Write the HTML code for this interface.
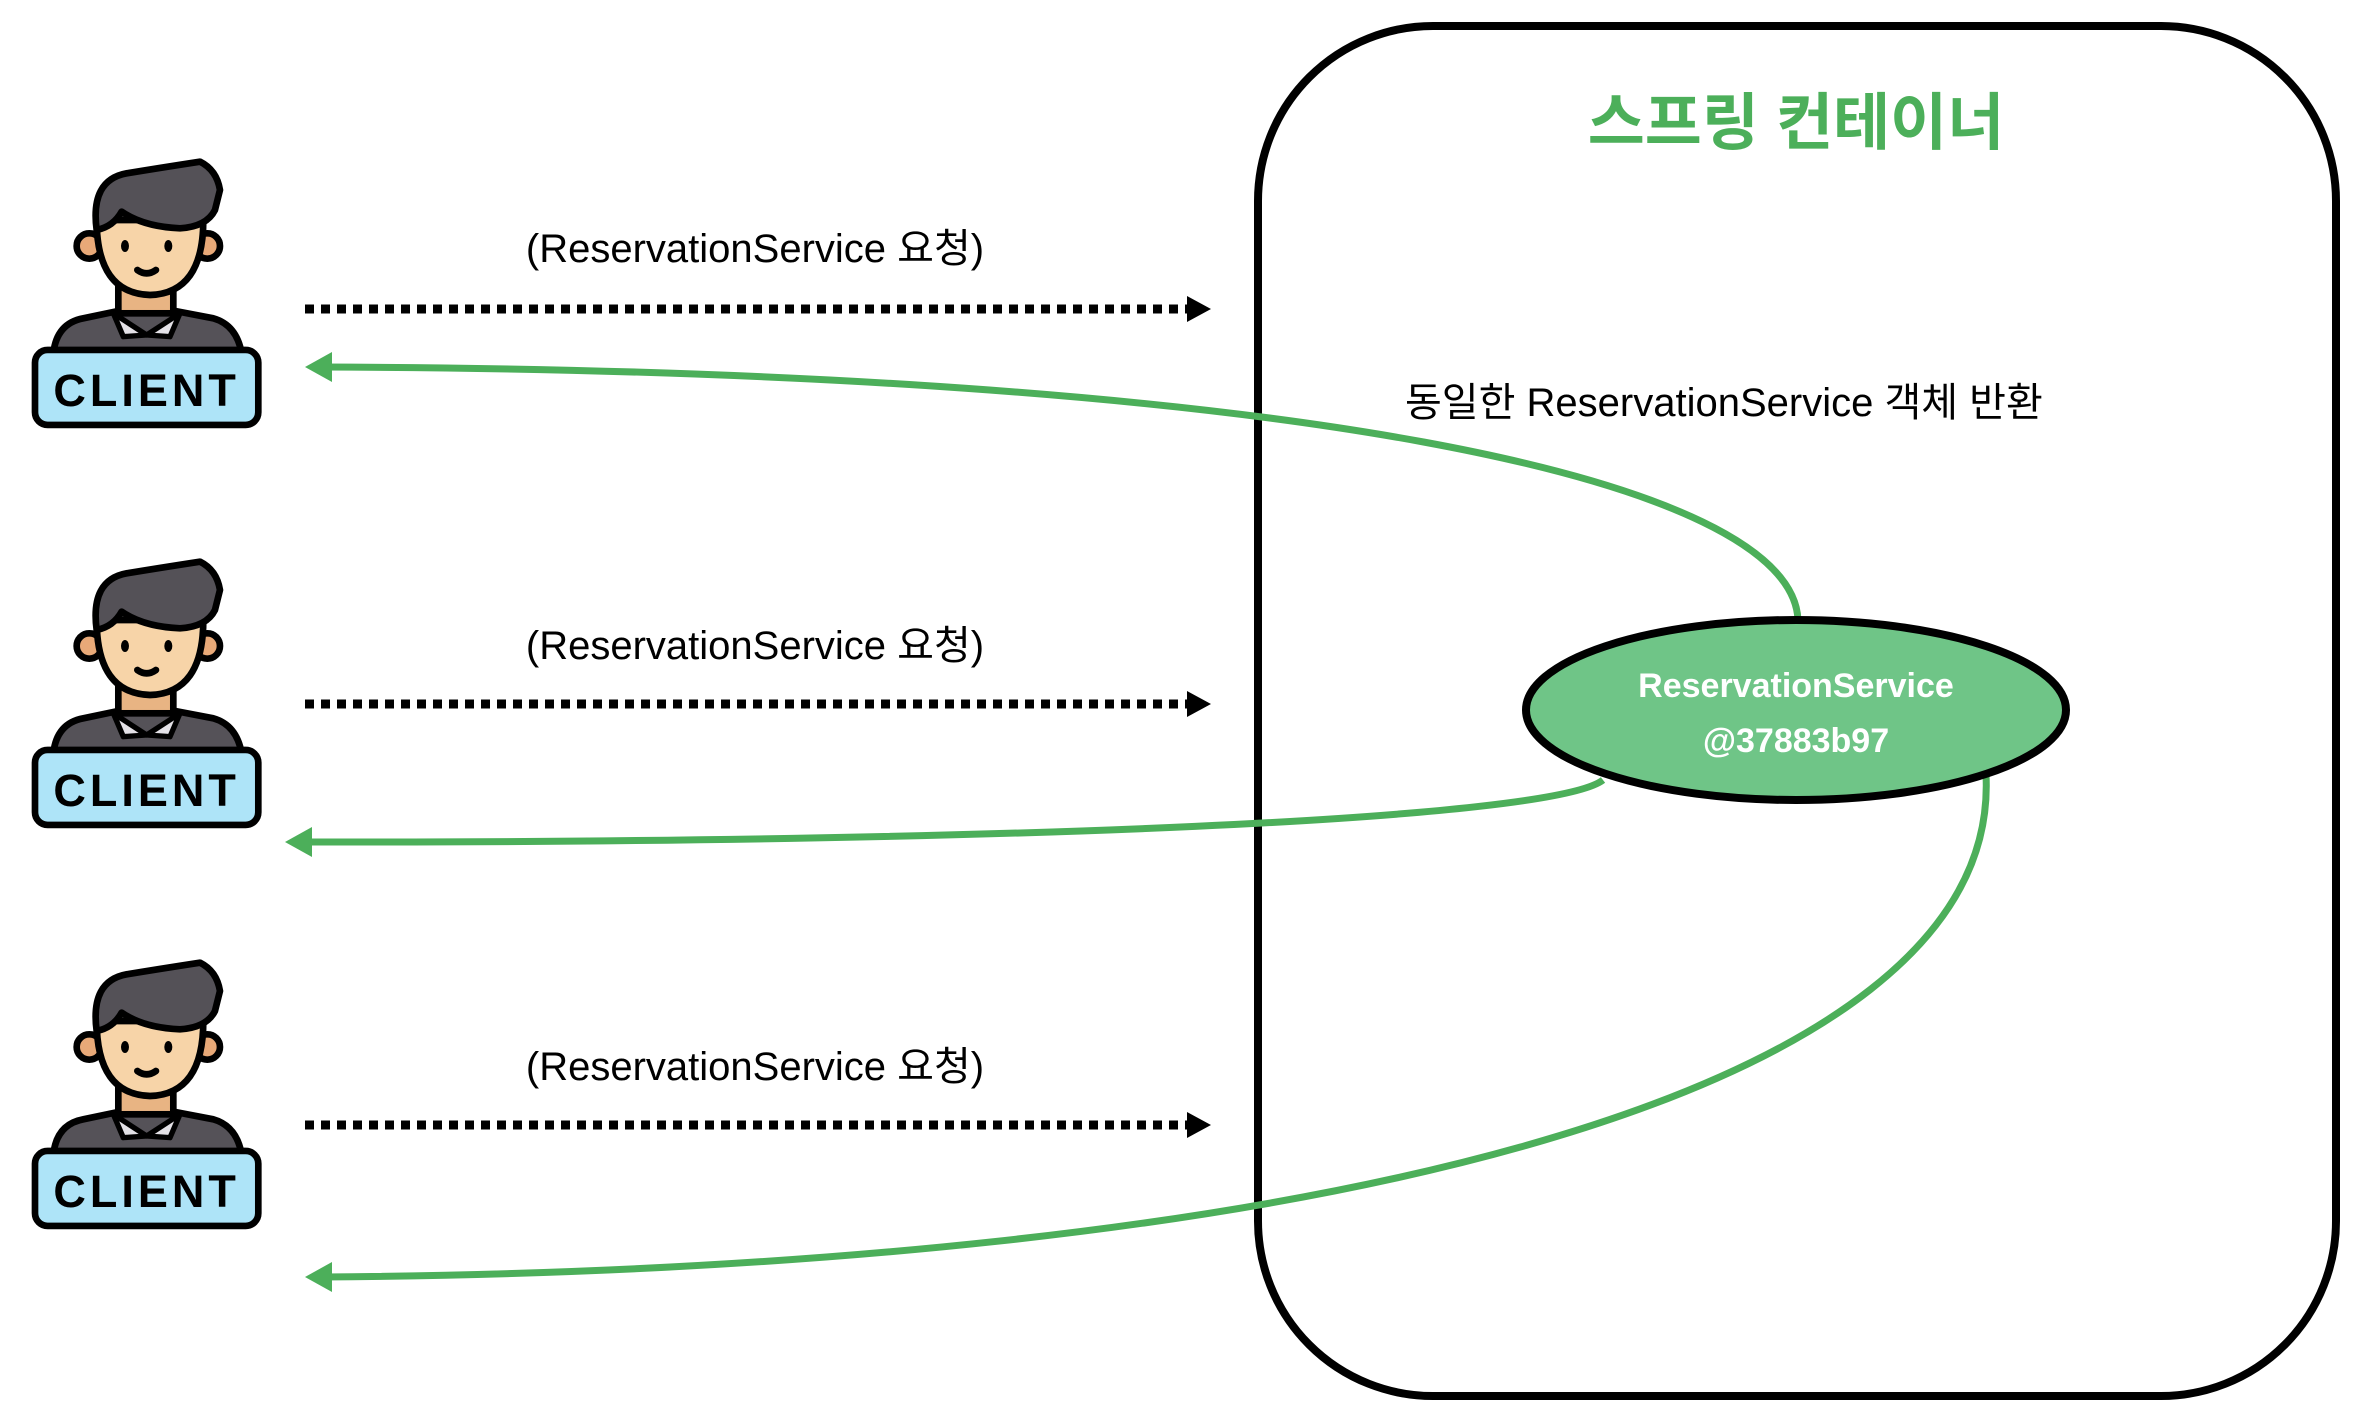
<!DOCTYPE html>
<html><head><meta charset="utf-8"><style>
html,body{margin:0;padding:0;background:#fff;}
svg{display:block;}
text{font-family:"Liberation Sans","Noto Sans CJK KR",sans-serif;}
</style></head><body>
<svg width="2372" height="1422" viewBox="0 0 2372 1422" xmlns="http://www.w3.org/2000/svg">
<defs>
<g id="client">
 <g transform="scale(0.3333)">
  <path d="M160,700 Q170,610 250,595 L360,572 L520,572 L640,595 Q710,615 725,700 z" fill="#555258" stroke="#000" stroke-width="20" stroke-linejoin="round"/>
  <rect x="355" y="490" width="165" height="90" fill="#e8b483" stroke="#000" stroke-width="20"/>
  <path d="M340,580 L440,645 L370,650 z" fill="#e3e1e6" stroke="#000" stroke-width="16" stroke-linejoin="round"/>
  <path d="M540,580 L440,645 L510,650 z" fill="#e3e1e6" stroke="#000" stroke-width="16" stroke-linejoin="round"/>
  <circle cx="268" cy="378" r="38" fill="#e8a978" stroke="#000" stroke-width="20"/>
  <circle cx="622" cy="378" r="38" fill="#e8a978" stroke="#000" stroke-width="20"/>
  <path d="M290,300 Q290,520 450,525 Q610,520 610,300 z" fill="#f7d4a8" stroke="#000" stroke-width="20"/>
  <path d="M290,330 Q270,180 380,160 Q470,145 600,125 Q650,150 660,210 L645,270 Q620,320 540,325 Q430,320 365,275 Q340,320 290,330 z" fill="#545157" stroke="#000" stroke-width="20" stroke-linejoin="round"/>
  <ellipse cx="375" cy="378" rx="12" ry="18" fill="#000"/>
  <ellipse cx="505" cy="378" rx="12" ry="18" fill="#000"/>
  <path d="M412,450 Q440,470 468,450" fill="none" stroke="#000" stroke-width="20" stroke-linecap="round"/>
  <rect x="105" y="690" width="670" height="225" rx="38" fill="#aee4f8" stroke="#000" stroke-width="20"/>
  <text x="440" y="858" text-anchor="middle" font-size="135" font-weight="bold" letter-spacing="12" fill="#000">CLIENT</text>
 </g>
</g>
</defs>

<rect x="1258" y="26" width="1078" height="1370" rx="175" fill="#fff" stroke="#000" stroke-width="8"/>
<text x="1796" y="144" text-anchor="middle" font-size="62" font-weight="bold" fill="#4caf5a">스프링 컨테이너</text>
<text x="1405" y="416" font-size="40" fill="#000">동일한 ReservationService 객체 반환</text>

<use href="#client" x="0" y="120"/>
<use href="#client" x="0" y="520"/>
<use href="#client" x="0" y="921"/>

<g font-size="40" fill="#000" text-anchor="middle">
<text x="755" y="262">(ReservationService 요청)</text>
<text x="755" y="659">(ReservationService 요청)</text>
<text x="755" y="1080">(ReservationService 요청)</text>
</g>
<g stroke="#000" stroke-width="9" stroke-dasharray="9,7" fill="none">
<line x1="305" y1="309" x2="1192" y2="309"/>
<line x1="305" y1="704" x2="1192" y2="704"/>
<line x1="305" y1="1125" x2="1192" y2="1125"/>
</g>
<g fill="#000">
<path d="M1187,296 L1211,309 L1187,322 z"/>
<path d="M1187,691 L1211,704 L1187,717 z"/>
<path d="M1187,1112 L1211,1125 L1187,1138 z"/>
</g>

<g stroke="#4caf5a" stroke-width="7" fill="none">
<path d="M1798,620 C1792,480 1300,370 320,367"/>
<path d="M1603,780 C1552,820 1000,843 300,842"/>
<path d="M1986,775 C2002,1100 1300,1270 322,1277"/>
</g>
<g fill="#4caf5a">
<path d="M305,367 L332,352 L332,382 z"/>
<path d="M285,842 L312,827 L312,857 z"/>
<path d="M305,1277 L332,1262 L332,1292 z"/>
</g>

<ellipse cx="1796" cy="710" rx="270" ry="90" fill="#6fc587" stroke="#000" stroke-width="8"/>
<text x="1796" y="697" text-anchor="middle" font-size="34" font-weight="bold" fill="#fff">ReservationService</text>
<text x="1796" y="752" text-anchor="middle" font-size="34" font-weight="bold" fill="#fff">@37883b97</text>
</svg>
</body></html>
